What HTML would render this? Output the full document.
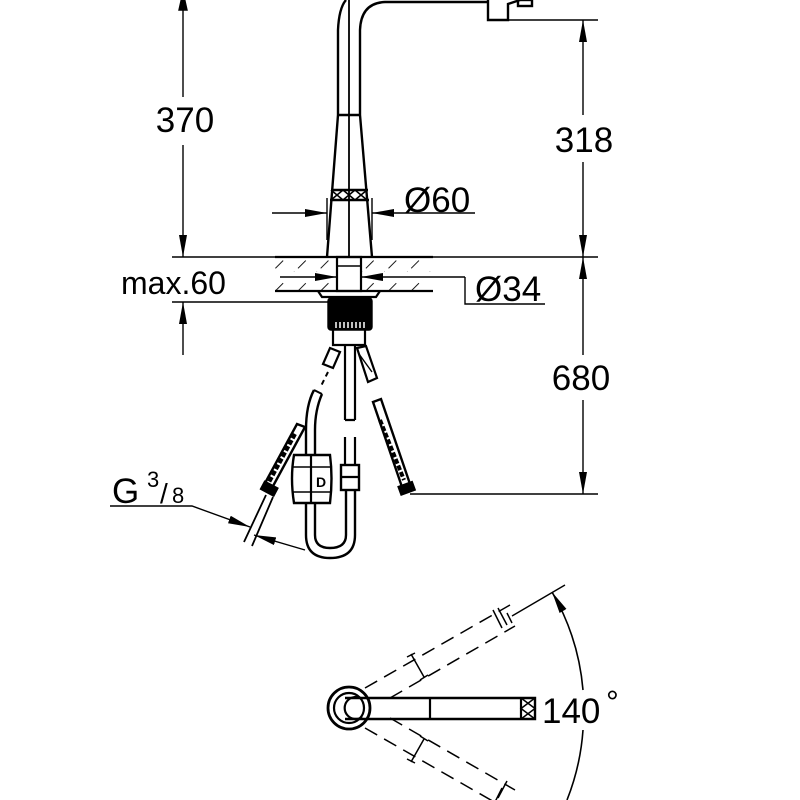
<!DOCTYPE html>
<html><head><meta charset="utf-8"><style>html,body{margin:0;padding:0;background:#fff}svg{display:block}text{font-family:"Liberation Sans",sans-serif;fill:#000}</style></head><body>
<svg width="800" height="800" viewBox="0 0 800 800" xmlns="http://www.w3.org/2000/svg">
<defs>
<marker id="a" viewBox="0 0 22 8" refX="22" refY="4" markerWidth="22" markerHeight="8" markerUnits="userSpaceOnUse" orient="auto"><path d="M0,0 L22,4 L0,8 z"/></marker>
<pattern id="h" width="16" height="16" patternUnits="userSpaceOnUse" patternTransform="rotate(45)"><line x1="0" y1="0" x2="0" y2="16" stroke="#000" stroke-width="1.8" stroke-dasharray="11 5"/></pattern>
</defs>
<g stroke="#000" fill="none" stroke-width="1.4">
<!-- 370 dim -->
<line x1="183" y1="0" x2="183" y2="97"/>
<line x1="183" y1="145" x2="183" y2="257" marker-end="url(#a)"/>
<path d="M179,10 L183,-8 L187,10z" fill="#000"/>
<!-- max 60 -->
<line x1="172" y1="302" x2="330" y2="302"/>
<line x1="183" y1="355" x2="183" y2="302" marker-end="url(#a)"/>
<!-- main horizontal -->
<line x1="172" y1="257" x2="598" y2="257"/>
<line x1="275" y1="257" x2="433" y2="257" stroke-width="2.2"/>
<!-- 318 dim -->
<line x1="508" y1="20" x2="598" y2="20"/>
<line x1="583" y1="115" x2="583" y2="20" marker-end="url(#a)"/>
<line x1="583" y1="162" x2="583" y2="257" marker-end="url(#a)"/>
<!-- 680 dim -->
<line x1="583" y1="355" x2="583" y2="257" marker-end="url(#a)"/>
<line x1="583" y1="400" x2="583" y2="494" marker-end="url(#a)"/>
<line x1="410" y1="494" x2="598" y2="494"/>
<!-- spout -->
<g stroke-width="2.4">
<path d="M327,257 L338,115 L338,30 Q339,8 346,0"/>
<path d="M372,257 L360,115 L360,30 Q361,3 385,2 L488,2"/>
<line x1="338" y1="115" x2="360" y2="115"/>
<line x1="331" y1="190" x2="368" y2="190"/>
<line x1="330" y1="200" x2="369" y2="200"/>
<path d="M488,0 L488,20 L508,20 L508,4 L520,0" />
<rect x="518" y="0" width="14" height="6"/>
</g>
<line x1="349" y1="0" x2="349" y2="257" stroke-width="1.8"/>
<path d="M331,190 L343,200 L355,190 L367,200 M331,200 L343,190 L355,200 L367,190" stroke-width="1.6"/>
<!-- Ø60 -->
<line x1="327" y1="198" x2="327" y2="240"/>
<line x1="372" y1="198" x2="372" y2="240"/>
<line x1="272" y1="213" x2="327" y2="213" marker-end="url(#a)"/>
<line x1="475" y1="213" x2="372" y2="213" marker-end="url(#a)"/>
<!-- counter hatch -->
<rect x="275" y="259" width="62" height="13" fill="url(#h)" stroke="none"/>
<rect x="361" y="259" width="72" height="13" fill="url(#h)" stroke="none"/>
<rect x="275" y="280" width="62" height="10" fill="url(#h)" stroke="none"/>
<rect x="361" y="280" width="72" height="10" fill="url(#h)" stroke="none"/>
<line x1="275" y1="291" x2="433" y2="291" stroke-width="2.2"/>
<rect x="337" y="257" width="24" height="34" stroke-width="2.2"/>
<line x1="337" y1="266" x2="361" y2="266" stroke-width="1.5"/>
<!-- Ø34 -->
<line x1="280" y1="277" x2="337" y2="277" marker-end="url(#a)"/>
<path d="M465,277 L361,277" marker-end="url(#a)"/>
<path d="M465,277 L465,304 L545,304"/>
<!-- nut and threads -->
<path d="M318,291 L322,297 L376,297 L380,291" stroke-width="2.2"/>
<rect x="328" y="298" width="44" height="32" rx="3" fill="#000"/>
<path d="M336,322 v6 M340,322 v6 M344,322 v6 M348,322 v6 M352,322 v6 M356,322 v6 M360,322 v6 M364,322 v6" stroke="#fff" stroke-width="1.5"/>
<path d="M333,330 L333,345 L365,345 L365,330" stroke-width="2.2"/>
<!-- stubs -->
<path d="M330,348 L340,352 L333,368 L323,364z" stroke-width="2.2"/>
<path d="M357,348 L366,346 L377,378 L368,382z" stroke-width="2.2"/>
<path d="M359,354 L372,372" stroke-width="1.4"/>
<path d="M328,372 L320,388" stroke-width="2" stroke-dasharray="5 4"/>
<!-- center pipe -->
<path d="M345,345 L345,420 M355,345 L355,420 M345,420 L355,420" stroke-width="2.2"/>
<path d="M345,437 L345,465 M355,437 L355,465" stroke-width="2.2"/>
<rect x="341" y="465" width="18" height="25" stroke-width="2.4"/>
<line x1="341" y1="477" x2="359" y2="477" stroke-width="2.2"/>
<!-- left curved pipe + U -->
<path d="M314,390 Q306,405 306,430 L306,535 Q306,558 330,558 Q355,558 355,535 L355,490" stroke-width="2.4"/>
<path d="M322,394 Q315,410 315,430 L315,535 Q315,548 330,548 Q346,548 346,535 L346,490" stroke-width="2.4"/>
<line x1="314" y1="390" x2="322" y2="394" stroke-width="2"/>
<!-- box -->
<path d="M294,455 L330,455 Q333,478 330,503 L294,503 Q290,478 294,455z" fill="#fff" stroke-width="2.4"/>
<line x1="311" y1="455" x2="311" y2="503" stroke-width="2.2"/>
<line x1="293" y1="467" x2="331" y2="467" stroke-width="1.5"/>
<line x1="293" y1="492" x2="331" y2="492" stroke-width="1.5"/>
<!-- left hose -->
<path d="M297,424 L305,427 L272,488 L264,485z" stroke-width="2.4"/>
<path d="M295,434 L268,484" stroke-width="4" stroke-dasharray="5 2"/>
<rect x="262" y="484" width="15" height="9" transform="rotate(28 269 488)" fill="#000"/>
<path d="M266,495 L244,542 M273,497 L252,546" stroke-width="1.8"/>
<!-- right hose -->
<path d="M373,402 L381,399 L410,484 L402,487z" stroke-width="2.4"/>
<path d="M380,420 L404,480" stroke-width="4" stroke-dasharray="5 2"/>
<rect x="399" y="484" width="15" height="9" transform="rotate(-20 406 488)" fill="#000"/>
<!-- G3/8 leader -->
<path d="M110,506 L192,506 L250,527" marker-end="url(#a)"/>
<path d="M305,550 L254,535" marker-end="url(#a)"/>
<!-- plan view -->
<circle cx="349" cy="708" r="21" stroke-width="2.8"/>
<circle cx="349" cy="708" r="15" stroke-width="2.2"/>
<path d="M362,699 A11,11 0 1 0 362,717" stroke-width="2.2"/>
<path d="M345,698 L535,698 L535,719 L345,719" stroke-width="2.4"/>
<line x1="430" y1="698" x2="430" y2="719" stroke-width="2.2"/>
<line x1="521" y1="698" x2="521" y2="719" stroke-width="2.2"/>
<path d="M521,698 L535,708.5 L521,719 M535,698 L521,708.5 L535,719" stroke-width="1.5"/>
<!-- dashed rays -->
<g stroke-dasharray="14 8" stroke-width="1.5">
<line x1="365" y1="688" x2="510" y2="605"/>
<line x1="390" y1="698" x2="515" y2="626"/>
<line x1="365" y1="728" x2="510" y2="811"/>
<line x1="390" y1="718" x2="515" y2="790"/>
</g>
<path d="M411,654 L424,677 M407,657 L415,653 M420,680 L428,675" stroke-width="1.5"/>
<path d="M411,762 L424,739 M407,759 L415,763 M420,736 L428,741" stroke-width="1.5"/>
<path d="M493,610 L502,628 M498,608 L507,625 M507,613 L512,623" stroke-width="1.5"/>
<path d="M493,806 L502,788 M498,798 L507,781" stroke-width="1.5"/>
<line x1="512" y1="616" x2="565" y2="585"/>
<path d="M583,690 A234,234 0 0 0 552,592" marker-end="url(#a)" stroke-width="1.6"/>
<path d="M583,730 A234,234 0 0 1 567,800" stroke-width="1.6"/>
</g>
<text x="185" y="132" font-size="35" text-anchor="middle">370</text>
<text x="121" y="294" font-size="32">max.60</text>
<text x="584" y="152" font-size="35" text-anchor="middle">318</text>
<text x="581" y="390" font-size="35" text-anchor="middle">680</text>
<text x="404" y="212" font-size="35">Ø60</text>
<text x="475" y="301" font-size="35">Ø34</text>
<text x="112" y="503" font-size="35">G</text>
<text x="147" y="487" font-size="22">3</text>
<text x="160" y="503" font-size="28">/</text>
<text x="172" y="503" font-size="22">8</text>
<text x="316" y="487" font-size="14" font-weight="bold">D</text>
<text x="542" y="723" font-size="35">140</text>
<text x="606" y="713" font-size="32">°</text>
</svg>
</body></html>
